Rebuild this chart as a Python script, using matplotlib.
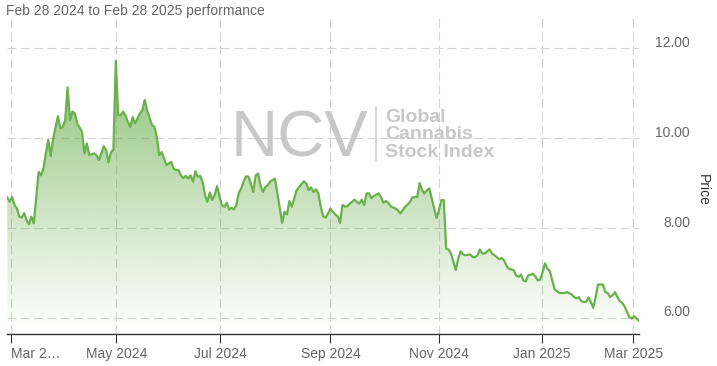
import numpy as np
import matplotlib
matplotlib.use("Agg")
import matplotlib.pyplot as plt
from matplotlib import transforms as mtrans
from matplotlib.lines import Line2D

plt.rcParams['font.family'] = ['Liberation Sans', 'DejaVu Sans']

# ---- data (trading-session number since Feb 28 2024, closing price) ----
sessions = [0, 1, 2, 3, 4, 5, 6, 7, 8, 9, 10, 11, 13, 14, 15, 16, 17, 18, 19, 21,
            22, 23, 24, 25, 26, 27, 28, 29, 31, 32, 33, 34, 36, 37, 38, 40, 41, 42, 43, 44,
            45, 46, 47, 48, 49, 50, 51, 52, 53, 54, 55, 56, 57, 58, 60, 61, 62, 63, 64, 65,
            66, 67, 68, 69, 70, 71, 72, 73, 74, 75, 76, 77, 78, 79, 80, 81, 82, 83, 84, 85,
            86, 87, 88, 89, 90, 91, 92, 93, 94, 95, 96, 97, 98, 99, 100, 101, 102, 103, 104, 105,
            106, 107, 108, 109, 111, 112, 113, 114, 115, 116, 117, 118, 119, 120, 121, 123, 124, 125, 126, 127,
            128, 129, 130, 131, 132, 133, 134, 135, 136, 137, 138, 139, 140, 141, 142, 143, 144, 145, 146, 147,
            148, 149, 150, 151, 152, 154, 155, 156, 157, 158, 159, 161, 162, 163, 165, 166, 167, 168, 170, 171,
            172, 173, 174, 175, 176, 177, 178, 179, 180, 181, 182, 183, 184, 186, 187, 188, 189, 190, 192, 193,
            194, 195, 196, 197, 198, 200, 201, 203, 204, 205, 206, 207, 208, 210, 211, 212, 213, 214, 215, 216,
            217, 218, 219, 220, 221, 222, 223, 224, 225, 226, 227, 229, 230, 231, 232, 234, 235, 236, 237, 238,
            239, 240, 241, 242, 243, 244, 245, 247, 248, 249, 250, 251, 252, 253, 254, 255, 256, 257, 258, 259,
            260, 261, 262]
prices = [8.68, 8.58, 8.69, 8.51, 8.43, 8.25, 8.23, 8.33, 8.17, 8.08, 8.25, 8.10, 9.25, 9.17, 9.32, 9.66, 9.96, 9.60, 9.99, 10.49,
          10.22, 10.25, 10.40, 11.13, 10.40, 10.59, 10.55, 10.33, 10.14, 9.66, 9.88, 9.62, 9.66, 9.62, 9.51, 9.82, 9.73, 9.46, 9.69, 9.73,
          11.72, 10.51, 10.51, 10.59, 10.51, 10.36, 10.25, 10.47, 10.33, 10.44, 10.55, 10.62, 10.85, 10.62, 10.29, 10.25, 10.03, 9.62, 9.69, 9.55,
          9.40, 9.44, 9.47, 9.32, 9.29, 9.29, 9.17, 9.11, 9.16, 9.10, 9.17, 9.03, 9.26, 9.14, 9.16, 9.03, 8.73, 8.58, 8.79, 8.62,
          8.73, 8.93, 8.69, 8.51, 8.47, 8.56, 8.41, 8.45, 8.41, 8.51, 8.78, 8.88, 9.03, 9.15, 9.14, 8.99, 8.80, 9.17, 9.21, 8.95,
          8.80, 8.91, 8.95, 9.03, 9.10, 8.77, 8.43, 8.11, 8.36, 8.30, 8.60, 8.47, 8.66, 8.84, 8.91, 9.04, 8.99, 8.84, 8.90, 8.80,
          8.86, 8.77, 8.47, 8.26, 8.23, 8.32, 8.43, 8.36, 8.30, 8.26, 8.11, 8.51, 8.48, 8.48, 8.54, 8.58, 8.63, 8.58, 8.54, 8.63,
          8.51, 8.77, 8.77, 8.66, 8.71, 8.77, 8.69, 8.56, 8.60, 8.56, 8.48, 8.43, 8.39, 8.32, 8.47, 8.52, 8.58, 8.68, 8.69, 9.00,
          8.84, 8.77, 8.84, 8.88, 8.66, 8.43, 8.22, 8.39, 8.62, 8.62, 7.54, 7.52, 7.43, 7.06, 7.32, 7.48, 7.41, 7.39, 7.41, 7.35,
          7.35, 7.39, 7.52, 7.43, 7.43, 7.52, 7.43, 7.35, 7.30, 7.33, 7.28, 7.16, 7.09, 7.06, 6.94, 6.91, 6.96, 6.83, 6.81, 6.94,
          6.96, 6.98, 6.92, 6.83, 6.85, 7.02, 7.21, 7.09, 7.04, 6.83, 6.63, 6.55, 6.55, 6.55, 6.57, 6.52, 6.46, 6.43, 6.46, 6.37,
          6.35, 6.35, 6.45, 6.35, 6.22, 6.46, 6.74, 6.74, 6.57, 6.55, 6.46, 6.50, 6.57, 6.46, 6.37, 6.33, 6.25, 6.13, 6.01, 5.98,
          6.03, 5.98, 5.93]
x_tick_labels = ["Mar 2\u2026", "May 2024", "Jul 2024", "Sep 2024", "Nov 2024", "Jan 2025", "Mar 2025"]
y_ticks = [6, 8, 10, 12]
y_tick_labels = ["6.00", "8.00", "10.00", "12.00"]
subtitle = "Feb 28 2024 to Feb 28 2025 performance"

# ---- layout ----
W, H = 717, 366
fig = plt.figure(figsize=(W / 100, H / 100), dpi=100)
ax_l, ax_r, ax_t, ax_b = 7.0, 639.3, 15.0, 334.0
ax = fig.add_axes([ax_l / W, 1 - ax_b / H, (ax_r - ax_l) / W, (ax_b - ax_t) / H])
xmin, xmax = -0.12, 262.1
ymin, ymax = 5.637, 12.742
tick_pos = [1.4, 45.2, 88.3, 134.0, 178.9, 221.7, 259.6]

line_color = '#6ab04c'
grid_color = '#d3d3d3'

# gradient fill under the line
x = np.array(sessions, dtype=float)
y = np.array(prices)
poly = ax.fill_between(x, y, ymin, facecolor='none', edgecolor='none')
n = 256
grad = np.zeros((n, 1, 4))
grad[..., 0] = 106 / 255
grad[..., 1] = 176 / 255
grad[..., 2] = 76 / 255
grad[:, 0, 3] = np.linspace(0.0, 0.9, n) ** 1.05
im = ax.imshow(grad, extent=[xmin, xmax, ymin, ymax], origin='lower', aspect='auto',
               interpolation='bilinear', zorder=1)
im.set_clip_path(poly.get_paths()[0], transform=ax.transData)

ax.plot(x, y, color=line_color, lw=1.6, solid_joinstyle='round', zorder=3)

ax.set_xlim(xmin, xmax)
ax.set_ylim(ymin, ymax)

# grid
for yv in y_ticks:
    ax.axhline(yv, color=grid_color, lw=0.8, dashes=(8, 4), zorder=0.5)
for xv in tick_pos:
    ax.axvline(xv, color=grid_color, lw=0.8, dashes=(8, 4), zorder=0.5)

for s in ['top', 'right', 'left']:
    ax.spines[s].set_visible(False)
ax.spines['bottom'].set_color('#333333')
ax.spines['bottom'].set_linewidth(1.0)

ax.set_xticks(tick_pos)
ax.set_xticklabels(x_tick_labels)
ax.tick_params(axis='x', direction='out', length=6.5, width=0.8, color='#333333',
               labelcolor='#666666', labelsize=10, pad=3)
ax.get_xticklabels()[0].set_ha('left')
ax.set_yticks([])

off = mtrans.ScaledTranslation(50.7 / 100, 5.3 / 100, fig.dpi_scale_trans)
btrans = mtrans.blended_transform_factory(ax.transAxes, ax.transData)
for yv, lab in zip(y_ticks, y_tick_labels):
    ax.text(1.0, yv, lab, transform=btrans + off, ha='right', va='center',
            fontsize=10, color='#666666')

fig.text(703 / W, 1 - 190 / H, 'Price', rotation=270, ha='center', va='center',
         fontsize=10, color='#333333')

fig.text(6 / W, 1 - 15 / H, subtitle, ha='left', va='baseline', fontsize=10, color='#666666')

# watermark
wm = '#c8c8c8'
fig.text(231 / W, 1 - 156.7 / H, 'NCV', ha='left', va='baseline', fontsize=47, color=wm)
fig.add_artist(Line2D([375.7 / W, 375.7 / W], [1 - 106.7 / H, 1 - 160 / H],
                      transform=fig.transFigure, color='#d0d0d0', lw=1.2))
for txt, base in zip(['Global', 'Cannabis', 'Stock Index'], [122, 139.5, 157]):
    fig.text(385 / W, 1 - base / H, txt, ha='left', va='baseline', fontsize=14,
             fontweight='bold', color=wm)

fig.savefig('out.png', dpi=100)
